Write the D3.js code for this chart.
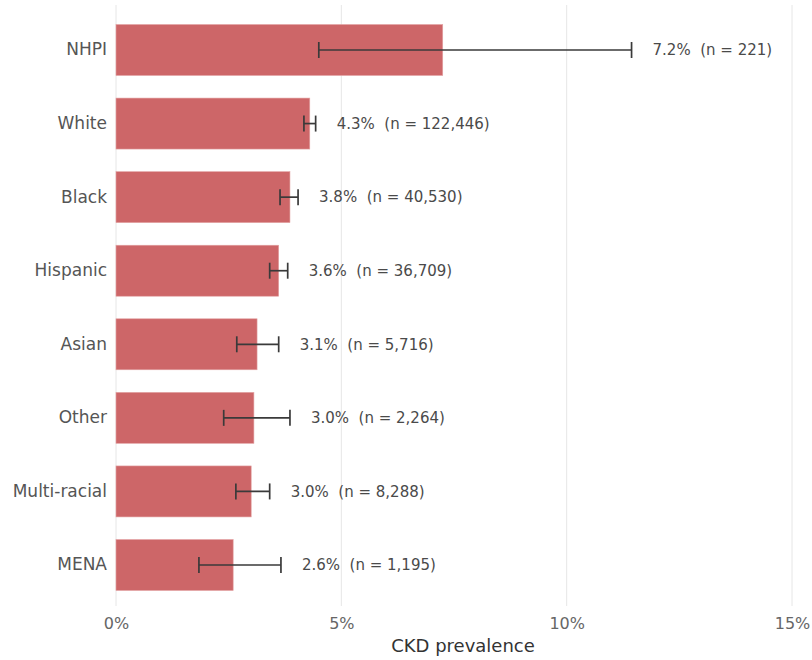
<!DOCTYPE html>
<html>
<head>
<meta charset="utf-8">
<script src="https://cdn.jsdelivr.net/npm/d3@7"></script>
<style>
  body { margin: 0; background: #fff; }
  svg { display: block; font-family: "DejaVu Sans", sans-serif; }
</style>
</head>
<body>
<svg id="chart" width="812" height="660"></svg>
<script>
const categories = ["NHPI", "White", "Black", "Hispanic", "Asian", "Other", "Multi-racial", "MENA"];
const prevalence = [7.25, 4.3, 3.86, 3.61, 3.13, 3.06, 3.0, 2.6];
const ciLow = [4.5, 4.17, 3.64, 3.41, 2.68, 2.39, 2.66, 1.84];
const ciHigh = [11.44, 4.43, 4.04, 3.81, 3.61, 3.86, 3.41, 3.66];
const labels = ["7.2%", "4.3%", "3.8%", "3.6%", "3.1%", "3.0%", "3.0%", "2.6%"];
const counts = ["221", "122,446", "40,530", "36,709", "5,716", "2,264", "8,288", "1,195"];
const xTicks = [0, 5, 10, 15];

const svg = d3.select("#chart");

const x = d3.scaleLinear().domain([0, 15]).range([116, 792]);
const y = d3.scaleBand().domain(categories).range([24.5, 590.5]).paddingInner(0.307).paddingOuter(0);

// gridlines
svg.append("g").selectAll("line").data(xTicks).join("line")
  .attr("x1", d => x(d)).attr("x2", d => x(d))
  .attr("y1", 5).attr("y2", 606)
  .attr("stroke", "#e6e6e6").attr("stroke-width", 1);

const data = categories.map((c, i) => ({c, v: prevalence[i], lo: ciLow[i], hi: ciHigh[i], lab: labels[i], n: counts[i]}));

// bars
svg.append("g").selectAll("rect").data(data).join("rect")
  .attr("x", x(0)).attr("y", d => y(d.c))
  .attr("width", d => x(d.v) - x(0)).attr("height", y.bandwidth())
  .attr("fill", "#cd6668").attr("stroke", "#e3a3a4").attr("stroke-width", 0.6);

// error bars
const eb = svg.append("g").attr("stroke", "#3a3a3a").attr("stroke-width", 1.7).attr("fill", "none");
data.forEach(d => {
  const cy = y(d.c) + y.bandwidth() / 2;
  eb.append("line").attr("x1", x(d.lo)).attr("x2", x(d.hi)).attr("y1", cy).attr("y2", cy);
  eb.append("line").attr("x1", x(d.lo)).attr("x2", x(d.lo)).attr("y1", cy - 8).attr("y2", cy + 8);
  eb.append("line").attr("x1", x(d.hi)).attr("x2", x(d.hi)).attr("y1", cy - 8).attr("y2", cy + 8);
});

// value labels
svg.append("g").selectAll("text").data(data).join("text")
  .attr("x", d => Math.max(x(d.v), x(d.hi)) + 21)
  .attr("y", d => y(d.c) + y.bandwidth() / 2)
  .attr("dy", "0.35em")
  .attr("font-size", 15).attr("fill", "#4a4a4a")
  .attr("xml:space", "preserve")
  .text(d => `${d.lab}  (n = ${d.n})`);

// y axis labels
const yAxis = d3.axisLeft(y).tickSize(0).tickPadding(9);
const gy = svg.append("g").attr("transform", `translate(${x(0)},0)`).call(yAxis);
gy.select(".domain").remove();
gy.selectAll("text").attr("font-size", 17).attr("fill", "#555").attr("font-family", "DejaVu Sans, sans-serif");

// x axis
const xAxis = d3.axisBottom(x).tickValues(xTicks).tickFormat(d => d + "%").tickSize(0).tickPadding(12);
const gx = svg.append("g").attr("transform", `translate(0,606)`).call(xAxis);
gx.select(".domain").remove();
gx.selectAll("text").attr("font-size", 16).attr("fill", "#666").attr("font-family", "DejaVu Sans, sans-serif");

svg.append("text")
  .attr("x", 463).attr("y", 652)
  .attr("text-anchor", "middle").attr("font-size", 18).attr("fill", "#333")
  .text("CKD prevalence");
</script>
</body>
</html>
